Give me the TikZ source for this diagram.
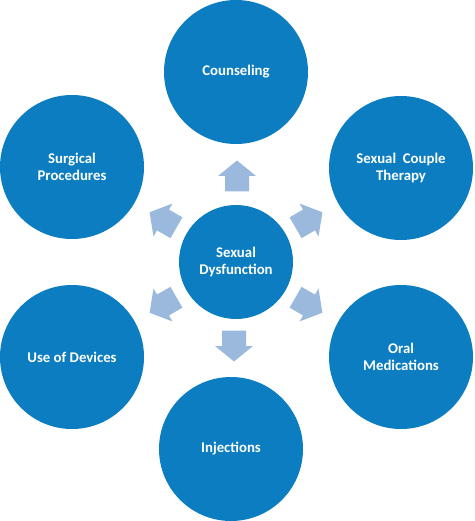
\documentclass[tikz,border=0pt]{standalone}
\usepackage{fontspec}
\setmainfont{Carlito}
\definecolor{circblue}{RGB}{11,125,192}
\definecolor{arrblue}{RGB}{155,185,220}
\tikzset{
  bigcirc/.style={circle, fill=circblue, draw=none, minimum size=144pt, inner sep=0pt,
    text=white, font=\bfseries\fontsize{14.8}{16.5}\selectfont, align=center},
  midcirc/.style={bigcirc, minimum size=114pt},
  blockarrow/.pic={
    \fill[arrblue] (-15.5,-12) -- (0,-12) -- (0,-19) -- (15.5,0) -- (0,19) -- (0,12) -- (-15.5,12) -- cycle;
  }
}
\begin{document}
\begin{tikzpicture}[x=1pt,y=-1pt]
\useasboundingbox (0,0) rectangle (474,521);
\node[midcirc] (sd) at (236,262) {Sexual\\Dysfunction};
\node[bigcirc] (co) at (236,72) {Counseling};
\node[bigcirc] (sct) at (401,168) {Sexual\ \ Couple\\Therapy};
\node[bigcirc] (om) at (401,357) {Oral\\Medications};
\node[bigcirc] (inj) at (231,449) {Injections};
\node[bigcirc] (ud) at (72,357) {Use of Devices};
\node[bigcirc] (sp) at (72,167) {Surgical\\Procedures};
\pic[rotate=90] (a1) at (237,176) {blockarrow};
\pic[rotate=30] (a2) at (309,220) {blockarrow};
\pic[rotate=-30] (a3) at (309,305) {blockarrow};
\pic[rotate=-90] (a4) at (234,346) {blockarrow};
\pic[rotate=-150] (a5) at (163,305) {blockarrow};
\pic[rotate=150] (a6) at (163,220) {blockarrow};
\end{tikzpicture}
\end{document}
